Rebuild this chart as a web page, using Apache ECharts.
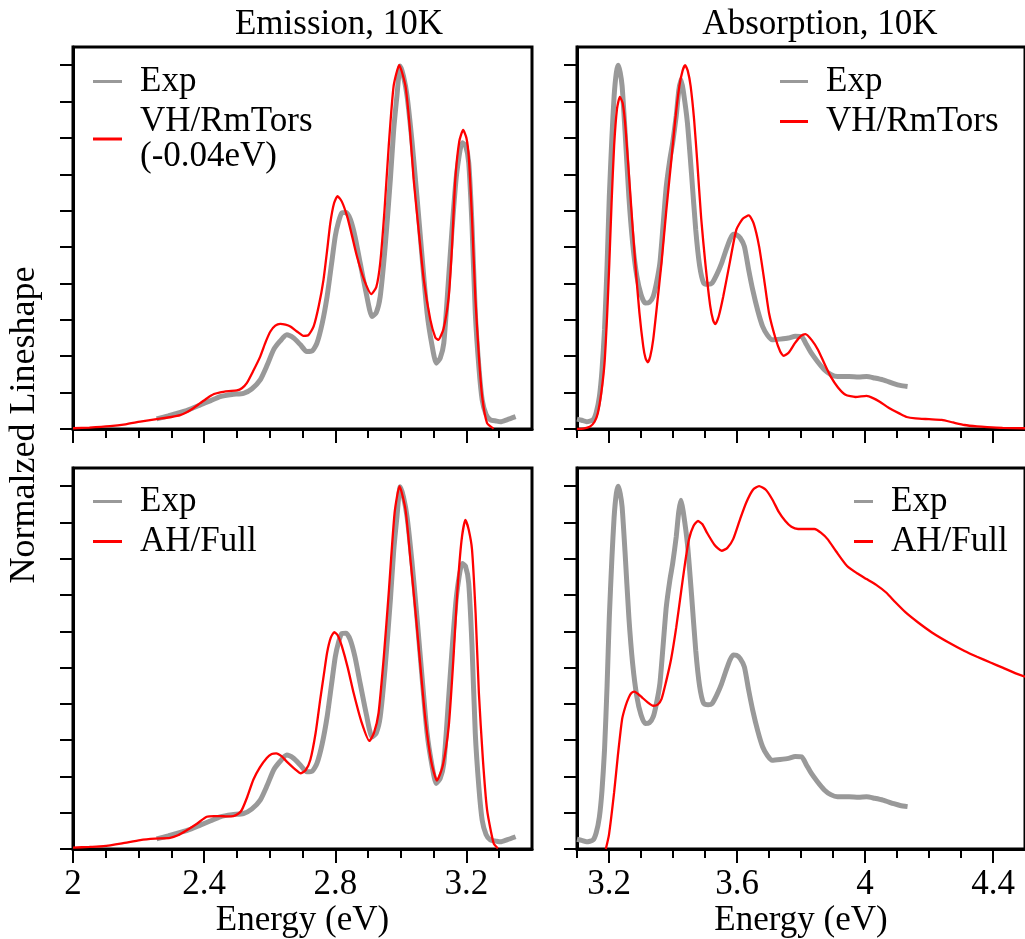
<!DOCTYPE html>
<html>
<head>
<meta charset="utf-8">
<script src="https://cdn.jsdelivr.net/npm/echarts@6/dist/echarts.min.js"></script>
<style>
  html, body { margin: 0; padding: 0; background: #fff; }
  #main { width: 1025px; height: 939px; }
</style>
</head>
<body>
<div id="main"></div>
<script>
// [energy (eV), normalized lineshape]
var emissionExp = [[2.255,0.028],[2.29,0.036],[2.317,0.043],[2.35,0.052],[2.388,0.066],[2.42,0.078],[2.449,0.089],[2.485,0.095],[2.52,0.098],[2.545,0.11],[2.571,0.135],[2.592,0.175],[2.612,0.218],[2.632,0.242],[2.652,0.259],[2.673,0.25],[2.693,0.232],[2.713,0.213],[2.73,0.215],[2.744,0.236],[2.76,0.29],[2.775,0.364],[2.788,0.45],[2.8,0.53],[2.81,0.57],[2.82,0.594],[2.833,0.595],[2.846,0.576],[2.86,0.53],[2.876,0.456],[2.895,0.37],[2.912,0.309],[2.925,0.32],[2.937,0.364],[2.952,0.5],[2.968,0.686],[2.978,0.82],[2.988,0.915],[2.998,0.998],[3.008,0.97],[3.019,0.915],[3.034,0.79],[3.049,0.64],[3.065,0.47],[3.08,0.319],[3.095,0.23],[3.108,0.181],[3.12,0.195],[3.131,0.236],[3.143,0.38],[3.156,0.548],[3.17,0.7],[3.187,0.787],[3.197,0.78],[3.207,0.732],[3.217,0.56],[3.227,0.319],[3.238,0.17],[3.248,0.08],[3.26,0.04],[3.273,0.025],[3.29,0.022],[3.304,0.02],[3.325,0.026],[3.35,0.034]];

var emissionVH = [[2.0,0.002],[2.05,0.004],[2.113,0.008],[2.16,0.013],[2.205,0.02],[2.255,0.027],[2.3,0.033],[2.327,0.038],[2.347,0.046],[2.367,0.057],[2.388,0.071],[2.408,0.084],[2.43,0.096],[2.449,0.101],[2.475,0.104],[2.5,0.106],[2.515,0.112],[2.53,0.126],[2.55,0.16],[2.571,0.199],[2.588,0.24],[2.602,0.268],[2.617,0.284],[2.632,0.289],[2.648,0.287],[2.663,0.282],[2.683,0.268],[2.703,0.256],[2.718,0.258],[2.734,0.282],[2.75,0.34],[2.764,0.41],[2.775,0.49],[2.785,0.567],[2.796,0.62],[2.807,0.64],[2.82,0.625],[2.836,0.585],[2.85,0.535],[2.866,0.475],[2.888,0.41],[2.91,0.371],[2.925,0.39],[2.937,0.456],[2.95,0.6],[2.963,0.778],[2.978,0.943],[2.995,1.0],[3.014,0.943],[3.027,0.83],[3.039,0.686],[3.055,0.54],[3.07,0.41],[3.09,0.3],[3.105,0.252],[3.114,0.245],[3.13,0.275],[3.146,0.364],[3.156,0.5],[3.166,0.686],[3.178,0.79],[3.19,0.822],[3.2,0.8],[3.207,0.75],[3.217,0.58],[3.227,0.364],[3.238,0.2],[3.248,0.089],[3.263,0.016],[3.283,0.001]];

var emissionAH = [[2.0,0.004],[2.05,0.006],[2.093,0.008],[2.15,0.016],[2.205,0.025],[2.25,0.029],[2.296,0.031],[2.32,0.038],[2.347,0.052],[2.378,0.07],[2.408,0.089],[2.43,0.091],[2.449,0.091],[2.47,0.09],[2.489,0.091],[2.505,0.098],[2.515,0.108],[2.532,0.145],[2.55,0.191],[2.57,0.225],[2.591,0.251],[2.606,0.262],[2.62,0.264],[2.636,0.256],[2.652,0.241],[2.675,0.222],[2.695,0.209],[2.71,0.218],[2.724,0.246],[2.74,0.32],[2.754,0.412],[2.765,0.48],[2.775,0.541],[2.786,0.582],[2.797,0.598],[2.808,0.588],[2.82,0.559],[2.838,0.5],[2.856,0.43],[2.88,0.35],[2.904,0.298],[2.918,0.32],[2.932,0.375],[2.948,0.53],[2.963,0.706],[2.981,0.927],[2.996,1.0],[3.014,0.936],[3.029,0.8],[3.044,0.66],[3.06,0.5],[3.075,0.356],[3.093,0.24],[3.11,0.189],[3.128,0.23],[3.146,0.338],[3.16,0.52],[3.172,0.706],[3.185,0.85],[3.197,0.907],[3.207,0.88],[3.217,0.826],[3.228,0.65],[3.238,0.43],[3.25,0.25],[3.263,0.108],[3.283,0.016],[3.296,0.002]];

var absorptionExp = [[3.1,0.027],[3.115,0.024],[3.13,0.02],[3.15,0.025],[3.16,0.045],[3.17,0.089],[3.178,0.16],[3.186,0.273],[3.194,0.45],[3.201,0.64],[3.209,0.8],[3.216,0.915],[3.223,0.98],[3.229,1.0],[3.235,0.98],[3.241,0.943],[3.25,0.82],[3.262,0.64],[3.274,0.51],[3.287,0.42],[3.3,0.37],[3.313,0.346],[3.326,0.348],[3.338,0.364],[3.348,0.4],[3.359,0.456],[3.369,0.56],[3.379,0.667],[3.39,0.74],[3.399,0.787],[3.41,0.86],[3.418,0.93],[3.425,0.961],[3.432,0.93],[3.445,0.842],[3.458,0.7],[3.471,0.548],[3.483,0.45],[3.496,0.401],[3.51,0.398],[3.522,0.401],[3.537,0.425],[3.552,0.456],[3.565,0.49],[3.578,0.521],[3.588,0.535],[3.598,0.534],[3.61,0.525],[3.623,0.502],[3.636,0.44],[3.649,0.383],[3.665,0.325],[3.68,0.282],[3.695,0.258],[3.71,0.245],[3.735,0.247],[3.761,0.25],[3.782,0.255],[3.802,0.254],[3.817,0.232],[3.832,0.209],[3.852,0.185],[3.873,0.163],[3.893,0.15],[3.914,0.144],[3.95,0.144],[3.98,0.143],[4.005,0.144],[4.03,0.14],[4.056,0.135],[4.09,0.125],[4.11,0.12],[4.133,0.117]];

var absorptionVH = [[3.1,0],[3.12,0.001],[3.14,0.006],[3.155,0.02],[3.165,0.043],[3.176,0.1],[3.186,0.181],[3.194,0.31],[3.201,0.456],[3.208,0.62],[3.216,0.778],[3.225,0.88],[3.234,0.913],[3.243,0.895],[3.252,0.824],[3.267,0.64],[3.282,0.456],[3.295,0.32],[3.307,0.227],[3.314,0.195],[3.321,0.183],[3.329,0.2],[3.338,0.245],[3.35,0.34],[3.364,0.456],[3.379,0.6],[3.394,0.732],[3.407,0.85],[3.42,0.943],[3.43,0.985],[3.438,1.0],[3.446,0.985],[3.455,0.943],[3.466,0.85],[3.476,0.732],[3.488,0.58],[3.501,0.456],[3.516,0.34],[3.525,0.3],[3.532,0.288],[3.543,0.31],[3.557,0.364],[3.578,0.46],[3.598,0.548],[3.618,0.578],[3.637,0.587],[3.652,0.565],[3.669,0.502],[3.685,0.41],[3.7,0.319],[3.72,0.25],[3.735,0.213],[3.746,0.201],[3.762,0.21],[3.781,0.236],[3.8,0.256],[3.814,0.261],[3.833,0.245],[3.853,0.218],[3.873,0.18],[3.893,0.144],[3.915,0.115],[3.939,0.094],[3.97,0.088],[4.005,0.091],[4.025,0.085],[4.046,0.075],[4.075,0.058],[4.107,0.043],[4.13,0.033],[4.158,0.029],[4.2,0.027],[4.24,0.025],[4.275,0.018],[4.311,0.011],[4.35,0.007],[4.382,0.005],[4.43,0.003],[4.5,0.002]];

var absorptionAH = [[3.19,0.0],[3.2,0.04],[3.216,0.156],[3.228,0.26],[3.241,0.358],[3.252,0.395],[3.262,0.418],[3.27,0.43],[3.279,0.434],[3.29,0.428],[3.303,0.418],[3.32,0.405],[3.338,0.395],[3.352,0.398],[3.364,0.413],[3.378,0.46],[3.394,0.523],[3.41,0.61],[3.425,0.707],[3.438,0.79],[3.45,0.854],[3.464,0.89],[3.478,0.904],[3.492,0.895],[3.506,0.872],[3.53,0.838],[3.552,0.822],[3.57,0.83],[3.588,0.854],[3.61,0.91],[3.629,0.955],[3.65,0.99],[3.669,1.0],[3.69,0.99],[3.71,0.964],[3.73,0.93],[3.751,0.904],[3.77,0.888],[3.791,0.882],[3.815,0.882],[3.842,0.882],[3.862,0.872],[3.883,0.854],[3.91,0.82],[3.944,0.78],[3.975,0.76],[4.005,0.744],[4.035,0.728],[4.066,0.707],[4.095,0.68],[4.127,0.652],[4.165,0.625],[4.209,0.597],[4.26,0.57],[4.311,0.546],[4.35,0.53],[4.392,0.514],[4.43,0.5],[4.469,0.485],[4.5,0.475]];

// axis ticks and labels
var emissionMajor = [2, 2.4, 2.8, 3.2];
var emissionMinor = [2.1, 2.2, 2.3, 2.5, 2.6, 2.7, 2.9, 3.0, 3.1, 3.3];
var absorptionMajor = [3.2, 3.6, 4, 4.4];
var absorptionMinor = [3.1, 3.3, 3.4, 3.5, 3.7, 3.8, 3.9, 4.1, 4.2, 4.3];
var yTicks = [0, 0.1, 0.2, 0.3, 0.4, 0.5, 0.6, 0.7, 0.8, 0.9, 1.0];

var FONT = '"Liberation Serif", "Times New Roman", serif';
var GRAY = '#999999';
var RED = '#ff0000';

var chart = echarts.init(document.getElementById('main'), null, { renderer: 'canvas' });

var panels = [
    { left: 73, top: 47, min: 2, max: 3.4, major: emissionMajor, minor: emissionMinor, bottom: false },
    { left: 577, top: 47, min: 3.1, max: 4.5, major: absorptionMajor, minor: absorptionMinor, bottom: false },
    { left: 73, top: 468, min: 2, max: 3.4, major: emissionMajor, minor: emissionMinor, bottom: true },
    { left: 577, top: 468, min: 3.1, max: 4.5, major: absorptionMajor, minor: absorptionMinor, bottom: true }
];

var grids = [], xAxes = [], yAxes = [];
panels.forEach(function (p, i) {
    grids.push({
        left: p.left, top: p.top, width: 459, height: 382,
        show: true, borderColor: '#000', borderWidth: 3, backgroundColor: 'transparent'
    });
    // major ticks + labels
    xAxes.push({
        type: 'value', gridIndex: i, position: 'bottom', min: p.min, max: p.max,
        axisLine: { show: true, onZero: false, lineStyle: { color: '#000', width: 3 } },
        axisTick: { show: true, length: 14, customValues: p.major, lineStyle: { color: '#000', width: 2 } },
        axisLabel: {
            show: p.bottom, customValues: p.major, margin: 18,
            fontSize: 35, fontFamily: FONT, color: '#000',
            formatter: function (v) { return String(Math.round(v * 10) / 10); }
        },
        splitLine: { show: false },
        name: p.bottom ? 'Energy (eV)' : '',
        nameLocation: 'middle', nameGap: 53,
        nameTextStyle: { fontSize: 35, fontFamily: FONT, color: '#000' }
    });
    // minor ticks
    xAxes.push({
        type: 'value', gridIndex: i, position: 'bottom', min: p.min, max: p.max,
        axisLine: { show: false },
        axisTick: { show: true, length: 9, customValues: p.minor, lineStyle: { color: '#000', width: 2 } },
        axisLabel: { show: false },
        splitLine: { show: false }
    });
    yAxes.push({
        type: 'value', gridIndex: i, min: 0, max: 1.05,
        axisLine: { show: true, onZero: false, lineStyle: { color: '#000', width: 3 } },
        axisTick: { show: true, length: 13, customValues: yTicks, lineStyle: { color: '#000', width: 2 } },
        axisLabel: { show: false },
        splitLine: { show: false }
    });
});

function line(name, data, gi, color, width) {
    return {
        name: name, type: 'line', xAxisIndex: gi * 2, yAxisIndex: gi,
        data: data, showSymbol: false, symbol: 'none', smooth: 0.2,
        color: color,
        lineStyle: { color: color, width: width },
        z: color === RED ? 3 : 2, animation: false
    };
}

var VH_EM = 'VH/RmTors\n(-0.04eV)';
var series = [
    line('Exp', emissionExp, 0, GRAY, 5),
    line(VH_EM, emissionVH, 0, RED, 2.3),
    line('Exp', absorptionExp, 1, GRAY, 5),
    line('VH/RmTors', absorptionVH, 1, RED, 2.3),
    line('Exp', emissionExp, 2, GRAY, 5),
    line('AH/Full', emissionAH, 2, RED, 2.3),
    line('Exp', absorptionExp, 3, GRAY, 5),
    line('AH/Full', absorptionAH, 3, RED, 2.3)
];

function legend(left, top, names, w) {
    return {
        orient: 'vertical', left: left, top: top, data: names, padding: 0,
        icon: 'rect', itemWidth: w, itemHeight: 3, itemGap: 5,
        selectedMode: false,
        textStyle: { fontSize: 35, fontFamily: FONT, color: '#000', padding: [0, 0, 0, 13], lineHeight: 35 }
    };
}

var option = {
    backgroundColor: '#fff',
    animation: false,
    grid: grids,
    xAxis: xAxes,
    yAxis: yAxes,
    legend: [
        legend(93, 64, ['Exp', VH_EM], 29),
        legend(780, 64, ['Exp', 'VH/RmTors'], 28),
        legend(93, 484, ['Exp', 'AH/Full'], 29),
        legend(854, 484, ['Exp', 'AH/Full'], 19)
    ],
    graphic: [
        { type: 'text', x: 339, y: 25, style: { text: 'Emission, 10K', font: '35px ' + FONT, fill: '#000', textAlign: 'center', textVerticalAlign: 'middle' } },
        { type: 'text', x: 820, y: 25, style: { text: 'Absorption, 10K', font: '35px ' + FONT, fill: '#000', textAlign: 'center', textVerticalAlign: 'middle' } },
        { type: 'text', x: 25, y: 425, rotation: Math.PI / 2, style: { text: 'Normalzed Lineshape', font: '36px ' + FONT, fill: '#000', textAlign: 'center', textVerticalAlign: 'middle' } }
    ],
    series: series
};
chart.setOption(option);
</script>
</body>
</html>
